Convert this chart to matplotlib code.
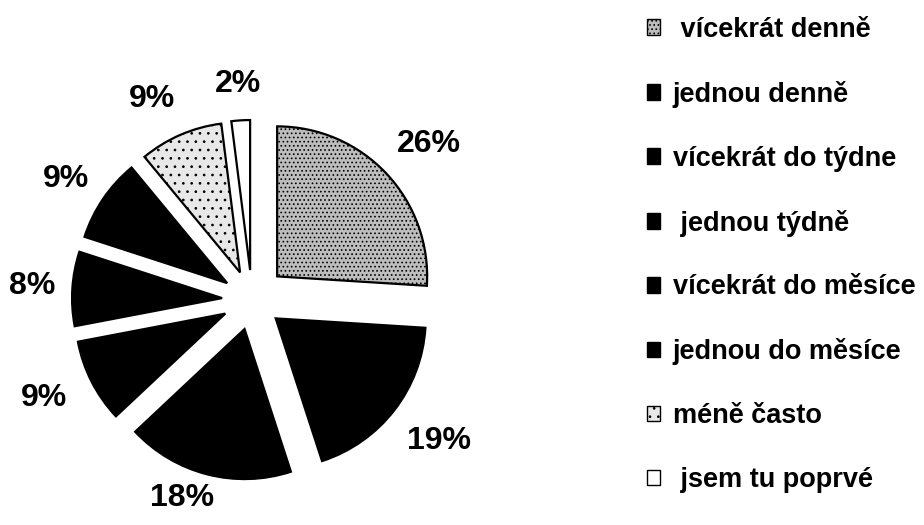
import numpy as np
import matplotlib
matplotlib.use('Agg')
import matplotlib.pyplot as plt

# data
labels = [' vícekrát denně', 'jednou denně', 'vícekrát do týdne', ' jednou týdně',
          'vícekrát do měsíce', 'jednou do měsíce', 'méně často', ' jsem tu poprvé']
values = [26, 19, 18, 9, 8, 9, 9, 2]

colors = ['#bdbdbd', 'black', 'black', 'black', 'black', 'black', '#e8e8e8', 'white']
hatches = ['....', '', '', '', '', '', '..', '']
R = 150
# explode is in data units here (radius is not 1)
explode = [0.23 * R, 0.2 * R, 0.2 * R, 0.2 * R, 0.2 * R, 0.2 * R, 0.2 * R, 0.2 * R]
# label placement: distance from wedge tip (in radii) and angle nudge (deg)
lab_dist = [1.34, 1.36, 1.2, 1.33, 1.27, 1.28, 1.3, 1.24]
lab_nudge = [-2, 1, -6, -2, 0, 1.5, 3.6, 0]

plt.rcParams['font.family'] = ['Liberation Sans', 'DejaVu Sans']
plt.rcParams['font.weight'] = 'bold'
plt.rcParams['hatch.linewidth'] = 0.7

fig = plt.figure(figsize=(9.24, 5.25), dpi=100)
ax = fig.add_axes([0, 0, 1, 1])

wedges, texts, autotexts = ax.pie(values, explode=explode, colors=colors,
                                  startangle=90, counterclock=False,
                                  center=(252, 225), radius=R,
                                  autopct='%1.0f%%', pctdistance=1.29,
                                  wedgeprops=dict(edgecolor='black', linewidth=1.6),
                                  textprops=dict(fontsize=23, fontweight='bold', color='black'))
for w, h in zip(wedges, hatches):
    if h:
        w.set_hatch(h)

# move the percentage labels a bit, like in the original
for w, t, d, nd in zip(wedges, autotexts, lab_dist, lab_nudge):
    ang = np.deg2rad((w.theta1 + w.theta2) / 2 + nd)
    cx, cy = w.center
    t.set_position((cx + d * R * np.cos(ang), cy + d * R * np.sin(ang)))

ax.set_xlim(0, 924)
ax.set_ylim(0, 525)
ax.set_aspect('equal')
ax.axis('off')

leg = ax.legend(wedges, labels, loc='upper left',
                bbox_to_anchor=(0.700, 0.968), bbox_transform=fig.transFigure,
                frameon=False, fontsize=19.5, handlelength=0.5, handleheight=0.5,
                handletextpad=0.45, labelspacing=1.4, borderpad=0, borderaxespad=0)
for t in leg.get_texts():
    t.set_fontweight('bold')
for p in leg.get_patches():
    p.set_linewidth(1.0)

fig.savefig('out.png', dpi=100)
